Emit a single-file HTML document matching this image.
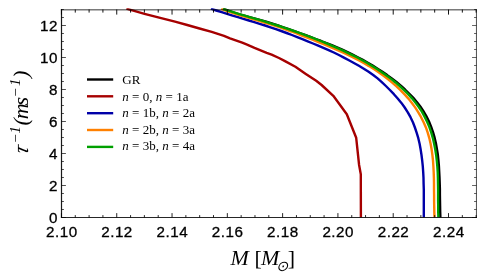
<!DOCTYPE html><html><head><meta charset="utf-8"><style>html,body{margin:0;padding:0;background:#fff;width:490px;height:279px;overflow:hidden}</style></head><body><svg width="490" height="279" viewBox="0 0 490 279" style="position:absolute;left:0;top:0;will-change:transform;opacity:0.999">
<rect width="490" height="279" fill="#fff"/>
<defs><clipPath id="c"><rect x="60.5" y="8.2" width="416.95" height="209.6"/></clipPath></defs>
<g clip-path="url(#c)" fill="none" stroke-width="2.4" stroke-linejoin="round">
<path d="M223.1,8.7 L228.5,10.8 L233.9,12.6 L239.4,14.3 L244.9,15.8 L250.4,17.4 L256.0,18.9 L261.5,20.4 L267.0,22.0 L272.5,23.7 L277.9,25.5 L283.4,27.3 L288.8,29.2 L294.2,31.1 L299.6,33.1 L305.0,35.0 L310.4,37.0 L315.7,39.0 L321.1,41.0 L326.4,43.1 L331.8,45.2 L337.0,47.4 L342.3,49.7 L347.5,52.1 L352.6,54.6 L357.7,57.2 L362.8,59.9 L367.8,62.7 L372.7,65.6 L377.6,68.7 L382.4,71.8 L387.2,75.1 L391.8,78.5 L396.4,82.0 L400.8,85.7 L405.0,89.5 L409.1,93.5 L413.1,97.6 L416.8,102.0 L420.3,106.5 L423.4,111.2 L426.3,116.1 L428.9,121.3 L431.1,126.6 L433.0,132.1 L434.6,137.7 L435.9,143.2 L436.9,148.9 L437.8,154.5 L438.4,160.2 L438.9,165.9 L439.2,171.6 L439.5,177.3 L439.7,183.1 L439.9,188.8 L439.9,194.6 L440.0,200.3 L440.1,206.1 L440.2,211.8 L440.4,217.5" stroke="#000000"/>
<path d="M126.4,8.7 L144.5,13.8 L159.2,17.6 L175.0,21.7 L187.2,25.0 L199.5,28.5 L211.7,31.9 L224.0,35.8 L230.0,38.3 L242.2,42.7 L245.9,44.2 L254.5,47.9 L266.7,52.8 L271.6,54.6 L279.0,58.0 L285.0,61.1 L295.4,66.8 L305.8,73.9 L316.2,80.7 L321.6,85.0 L333.3,95.8 L346.8,114.2 L356.2,137.8 L359.1,165.0 L360.8,174.2 L360.9,217.5" stroke="#a60000"/>
<path d="M210.9,8.7 L216.3,10.5 L221.7,12.2 L227.1,13.9 L232.6,15.6 L238.0,17.2 L243.4,18.9 L248.9,20.5 L254.3,22.1 L259.7,23.8 L265.1,25.5 L270.5,27.3 L275.9,29.1 L281.2,31.0 L286.6,33.0 L291.9,35.0 L297.2,37.1 L302.4,39.2 L307.7,41.3 L313.0,43.5 L318.2,45.7 L323.4,47.9 L328.6,50.1 L333.8,52.5 L338.9,55.0 L343.9,57.6 L348.9,60.3 L353.9,63.0 L358.9,65.8 L363.8,68.7 L368.6,71.8 L373.2,75.0 L377.6,78.4 L381.8,82.1 L385.9,86.0 L389.9,90.0 L393.9,94.2 L397.7,98.5 L401.4,102.9 L404.7,107.5 L407.8,112.3 L410.5,117.2 L412.9,122.3 L414.9,127.5 L416.7,132.8 L418.3,138.2 L419.6,143.7 L420.6,149.3 L421.5,155.0 L422.2,160.7 L422.8,166.4 L423.2,172.1 L423.5,177.9 L423.6,183.6 L423.8,189.4 L423.8,195.1 L423.8,200.8 L423.8,206.4 L423.8,211.9 L423.8,217.4" stroke="#0000a8"/>
<path d="M221.2,8.9 L226.5,10.8 L231.8,12.6 L237.2,14.4 L242.7,16.1 L248.1,17.7 L253.6,19.3 L259.0,20.9 L264.4,22.6 L269.9,24.2 L275.3,25.9 L280.7,27.7 L286.0,29.6 L291.4,31.5 L296.7,33.5 L301.9,35.6 L307.2,37.6 L312.5,39.7 L317.8,41.9 L323.0,44.0 L328.3,46.2 L333.5,48.4 L338.7,50.7 L343.9,53.0 L349.0,55.4 L354.1,57.9 L359.1,60.5 L364.1,63.3 L369.0,66.1 L373.8,69.1 L378.6,72.2 L383.2,75.5 L387.8,79.0 L392.2,82.6 L396.5,86.4 L400.7,90.3 L404.6,94.4 L408.4,98.6 L411.9,103.0 L415.3,107.6 L418.3,112.3 L421.1,117.2 L423.6,122.2 L425.9,127.4 L427.7,132.7 L429.3,138.1 L430.6,143.7 L431.6,149.3 L432.4,155.0 L433.0,160.7 L433.4,166.5 L433.7,172.2 L433.9,177.9 L434.0,183.6 L434.0,189.3 L434.1,195.0 L434.1,200.6 L434.2,206.2 L434.3,211.8 L434.5,217.4" stroke="#ff8000"/>
<path d="M223.1,8.8 L228.5,10.7 L233.9,12.4 L239.3,14.1 L244.8,15.7 L250.3,17.3 L255.8,18.9 L261.3,20.4 L266.7,22.1 L272.2,23.8 L277.6,25.5 L283.1,27.3 L288.5,29.1 L293.9,31.0 L299.3,32.9 L304.6,34.9 L310.0,36.9 L315.3,38.9 L320.6,41.0 L325.9,43.1 L331.1,45.3 L336.4,47.6 L341.6,49.9 L346.7,52.3 L351.9,54.8 L356.9,57.3 L361.9,60.0 L366.9,62.8 L371.8,65.7 L376.7,68.7 L381.5,71.9 L386.2,75.2 L390.8,78.6 L395.3,82.2 L399.7,86.0 L403.9,89.8 L408.0,93.9 L411.8,98.1 L415.4,102.5 L418.8,107.0 L421.9,111.7 L424.6,116.6 L427.1,121.7 L429.3,126.9 L431.2,132.3 L432.8,137.8 L434.1,143.4 L435.2,149.0 L436.1,154.7 L436.8,160.5 L437.3,166.2 L437.7,171.9 L437.9,177.7 L438.0,183.4 L438.1,189.1 L438.1,194.8 L438.1,200.4 L438.2,206.1 L438.2,211.8 L438.4,217.4" stroke="#00a000"/>
</g>
<g fill="none" stroke-width="1">
<path d="M60.9,9.85 H476.95" stroke="#000" stroke-width="0.8"/>
<path d="M476.45,9.5 V218.0" stroke="#000" stroke-width="0.7"/>
<path d="M476.45,217.50 h-4.4 M476.45,209.50 h-2.4 M476.45,201.50 h-2.4 M476.45,193.50 h-2.4 M476.45,185.50 h-4.4 M476.45,177.50 h-2.4 M476.45,169.50 h-2.4 M476.45,161.50 h-2.4 M476.45,153.50 h-4.4 M476.45,145.50 h-2.4 M476.45,137.50 h-2.4 M476.45,129.50 h-2.4 M476.45,121.50 h-4.4 M476.45,113.50 h-2.4 M476.45,105.50 h-2.4 M476.45,97.50 h-2.4 M476.45,89.50 h-4.4 M476.45,81.50 h-2.4 M476.45,73.50 h-2.4 M476.45,65.50 h-2.4 M476.45,57.50 h-4.4 M476.45,49.50 h-2.4 M476.45,41.50 h-2.4 M476.45,33.50 h-2.4 M476.45,25.50 h-4.4 M476.45,17.50 h-2.4 M476.45,9.50 h-2.4" stroke="#000" stroke-opacity="0.6" stroke-width="1.2"/>
<path d="M61.45,9.5 v5.1000000000000005 M75.27,9.5 v3.0999999999999996 M89.10,9.5 v3.0999999999999996 M102.92,9.5 v3.0999999999999996 M116.74,9.5 v5.1000000000000005 M130.57,9.5 v3.0999999999999996 M144.39,9.5 v3.0999999999999996 M158.21,9.5 v3.0999999999999996 M172.04,9.5 v5.1000000000000005 M185.86,9.5 v3.0999999999999996 M199.68,9.5 v3.0999999999999996 M213.51,9.5 v3.0999999999999996 M227.33,9.5 v5.1000000000000005 M241.15,9.5 v3.0999999999999996 M254.98,9.5 v3.0999999999999996 M268.80,9.5 v3.0999999999999996 M282.62,9.5 v5.1000000000000005 M296.45,9.5 v3.0999999999999996 M310.27,9.5 v3.0999999999999996 M324.09,9.5 v3.0999999999999996 M337.92,9.5 v5.1000000000000005 M351.74,9.5 v3.0999999999999996 M365.56,9.5 v3.0999999999999996 M379.39,9.5 v3.0999999999999996 M393.21,9.5 v5.1000000000000005 M407.03,9.5 v3.0999999999999996 M420.86,9.5 v3.0999999999999996 M434.68,9.5 v3.0999999999999996 M448.50,9.5 v5.1000000000000005 M462.33,9.5 v3.0999999999999996 M476.15,9.5 v3.0999999999999996" stroke="#000" stroke-opacity="0.92" stroke-width="1"/>
<path d="M61.45,217.5 v-4.4 M75.27,217.5 v-2.4 M89.10,217.5 v-2.4 M102.92,217.5 v-2.4 M116.74,217.5 v-4.4 M130.57,217.5 v-2.4 M144.39,217.5 v-2.4 M158.21,217.5 v-2.4 M172.04,217.5 v-4.4 M185.86,217.5 v-2.4 M199.68,217.5 v-2.4 M213.51,217.5 v-2.4 M227.33,217.5 v-4.4 M241.15,217.5 v-2.4 M254.98,217.5 v-2.4 M268.80,217.5 v-2.4 M282.62,217.5 v-4.4 M296.45,217.5 v-2.4 M310.27,217.5 v-2.4 M324.09,217.5 v-2.4 M337.92,217.5 v-4.4 M351.74,217.5 v-2.4 M365.56,217.5 v-2.4 M379.39,217.5 v-2.4 M393.21,217.5 v-4.4 M407.03,217.5 v-2.4 M420.86,217.5 v-2.4 M434.68,217.5 v-2.4 M448.50,217.5 v-4.4 M462.33,217.5 v-2.4 M476.15,217.5 v-2.4" stroke="#000" stroke-opacity="0.85" stroke-width="1"/>
<path d="M61.5,217.50 h4.4 M61.5,209.50 h2.4 M61.5,201.50 h2.4 M61.5,193.50 h2.4 M61.5,185.50 h4.4 M61.5,177.50 h2.4 M61.5,169.50 h2.4 M61.5,161.50 h2.4 M61.5,153.50 h4.4 M61.5,145.50 h2.4 M61.5,137.50 h2.4 M61.5,129.50 h2.4 M61.5,121.50 h4.4 M61.5,113.50 h2.4 M61.5,105.50 h2.4 M61.5,97.50 h2.4 M61.5,89.50 h4.4 M61.5,81.50 h2.4 M61.5,73.50 h2.4 M61.5,65.50 h2.4 M61.5,57.50 h4.4 M61.5,49.50 h2.4 M61.5,41.50 h2.4 M61.5,33.50 h2.4 M61.5,25.50 h4.4 M61.5,17.50 h2.4 M61.5,9.50 h2.4" stroke="#000" stroke-opacity="0.68" stroke-width="1.2"/>
<path d="M61.5,9.0 V217.5" stroke="#000" stroke-opacity="0.9" stroke-width="1.2"/>
<path d="M60.9,217.5 H476.95" stroke="#000" stroke-opacity="0.85" stroke-width="1.1"/>
</g>
<g font-family="Liberation Sans, sans-serif" font-size="15.2" letter-spacing="0.5" fill="#000" stroke="#000" stroke-width="0.3">
<text x="61.8" y="237" text-anchor="middle">2.10</text>
<text x="117.0" y="237" text-anchor="middle">2.12</text>
<text x="172.3" y="237" text-anchor="middle">2.14</text>
<text x="227.6" y="237" text-anchor="middle">2.16</text>
<text x="282.9" y="237" text-anchor="middle">2.18</text>
<text x="338.2" y="237" text-anchor="middle">2.20</text>
<text x="393.5" y="237" text-anchor="middle">2.22</text>
<text x="448.8" y="237" text-anchor="middle">2.24</text>
<text x="57.9" y="223.0" text-anchor="end">0</text>
<text x="57.9" y="191.0" text-anchor="end">2</text>
<text x="57.9" y="159.0" text-anchor="end">4</text>
<text x="57.9" y="127.0" text-anchor="end">6</text>
<text x="57.9" y="95.0" text-anchor="end">8</text>
<text x="57.9" y="63.0" text-anchor="end">10</text>
<text x="57.9" y="31.0" text-anchor="end">12</text>
</g>
<g stroke-width="2.4" fill="none">
<path d="M87,79.5 H113.2" stroke="#000000"/>
<path d="M87,96.3 H113.2" stroke="#a60000"/>
<path d="M87,113.2 H113.2" stroke="#0000a8"/>
<path d="M87,130.0 H113.2" stroke="#ff8000"/>
<path d="M87,146.9 H113.2" stroke="#00a000"/>
</g>
<g font-family="Liberation Serif, serif" font-size="13" fill="#000" word-spacing="0.05">
<text x="122.3" y="83.9">GR</text>
<text x="122.3" y="100.5"><tspan font-style="italic">n</tspan> = 0, <tspan font-style="italic">n</tspan> = 1a</text>
<text x="122.3" y="117.0"><tspan font-style="italic">n</tspan> = 1b, <tspan font-style="italic">n</tspan> = 2a</text>
<text x="122.3" y="133.6"><tspan font-style="italic">n</tspan> = 2b, <tspan font-style="italic">n</tspan> = 3a</text>
<text x="122.3" y="150.1"><tspan font-style="italic">n</tspan> = 3b, <tspan font-style="italic">n</tspan> = 4a</text>
</g>
<g font-family="Liberation Serif, serif" font-style="italic" fill="#000">
<text y="265.4" font-size="22"><tspan x="230.5">M</tspan><tspan x="254.5" font-style="normal">[</tspan><tspan x="260.9">M</tspan><tspan x="276.4" font-size="14.5" dy="5.3">&#x2299;</tspan><tspan x="287.8" font-style="normal" dy="-5.3">]</tspan></text>
<g transform="translate(28,152.6) rotate(-90)" font-size="22">
<text x="-2.4" y="0" transform="skewX(-14)">&#x3C4;</text>
<text x="9" y="-8.3" font-size="14.6">&#x2212;</text>
<text x="19.2" y="-7.9" font-size="14.6">1</text>
<text x="27" y="0">(</text>
<text x="33.3" y="0">m</text>
<text x="47" y="0">s</text>
<text x="55.1" y="-8.3" font-size="14.6">&#x2212;</text>
<text x="66.6" y="-7.9" font-size="14.6">1</text>
<text x="74.5" y="0">)</text>
</g>
</g>
</svg></body></html>
